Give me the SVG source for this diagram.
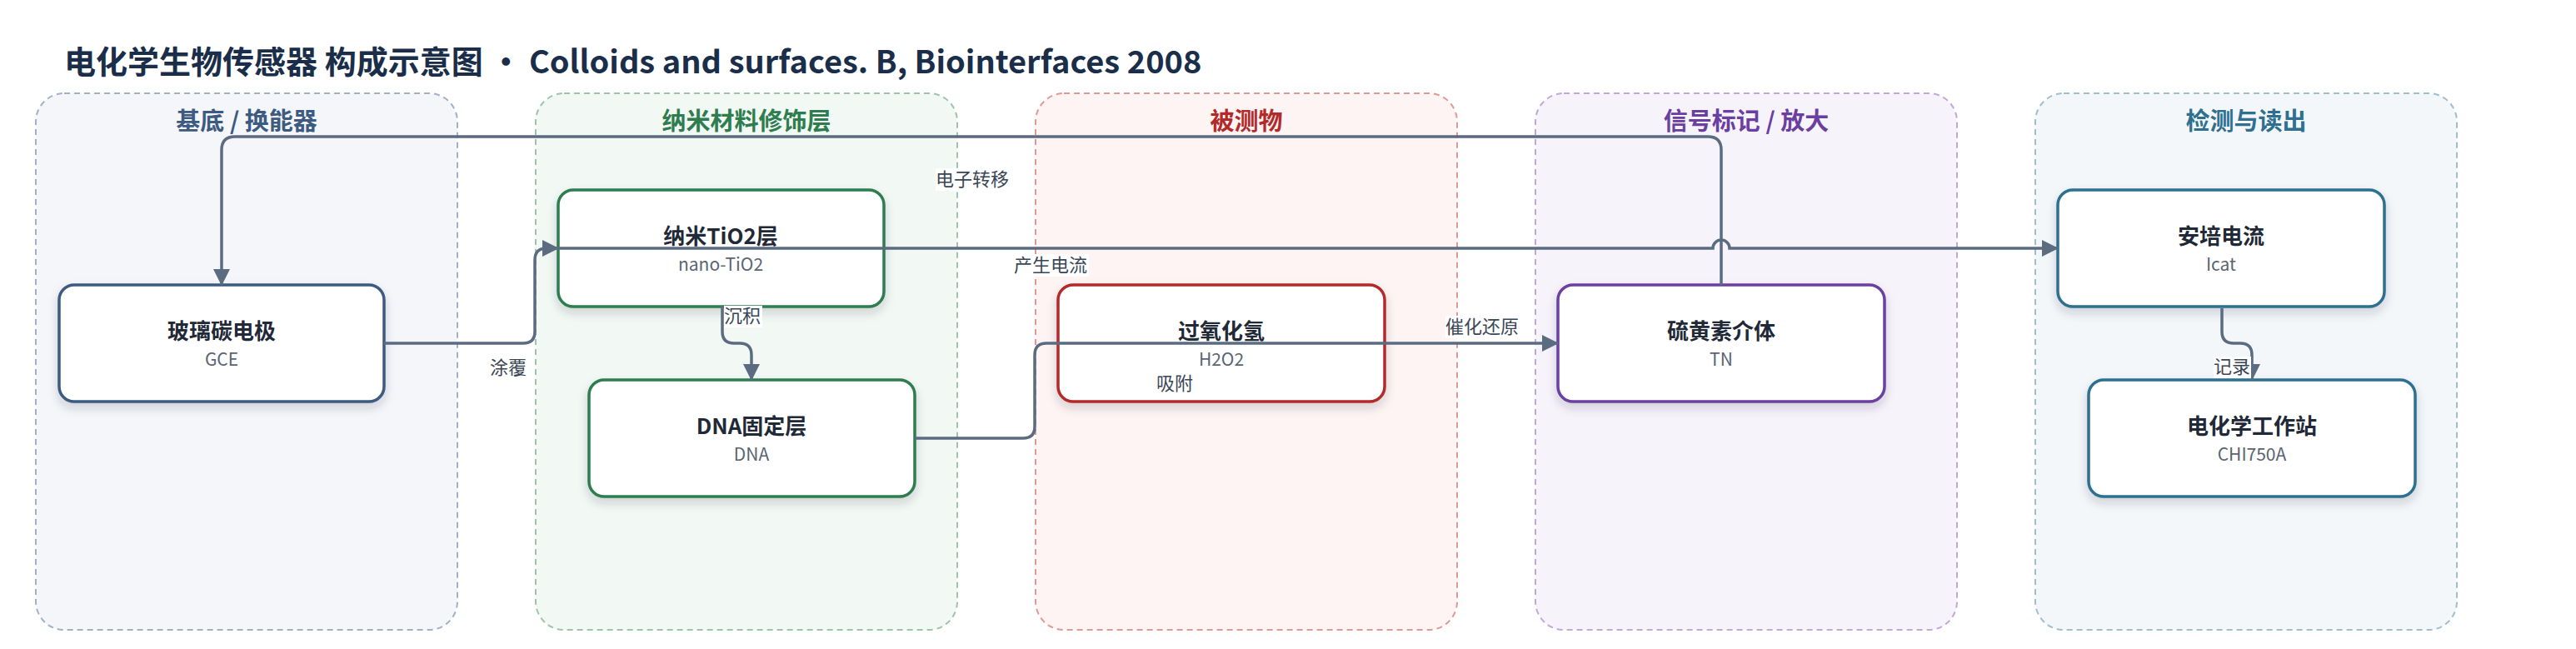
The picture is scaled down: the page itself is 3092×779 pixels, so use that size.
<svg xmlns="http://www.w3.org/2000/svg" width="3092" height="779" viewBox="0 0 3092 779">
<style>
text{font-family:"Noto Sans CJK SC","Noto Sans",sans-serif}
.title{font-size:38px;font-weight:700;fill:#1a2e4a}
.lane{stroke-width:2;stroke-dasharray:7 5}
.lt{font-size:29px;font-weight:700;text-anchor:middle}
.nb{fill:#fff;stroke-width:3.5}
.nt{font-size:26px;font-weight:700;fill:#1f2937;text-anchor:middle}
.ns{font-size:21px;fill:#5a6472;text-anchor:middle}
.edge{fill:none;stroke:#5b6b80;stroke-width:3.5}
.lb{fill:#fff}
.el{font-size:22px;fill:#3a4656;text-anchor:middle}
</style>
<defs>
<filter id="sh" x="-10%" y="-20%" width="120%" height="150%">
<feDropShadow dx="0" dy="6" stdDeviation="6" flood-color="#1f2937" flood-opacity="0.18"/>
</filter>
<marker id="ar" markerWidth="20" markerHeight="20" viewBox="0 0 20 20" refX="19" refY="10" orient="auto" markerUnits="userSpaceOnUse">
<path d="M0,0 L20,10 L0,20 z" fill="#5b6b80"/>
</marker>
</defs>
<rect width="3092" height="779" fill="#fff"/>
<text class="title" x="77" y="88">电化学生物传感器 构成示意图 · Colloids and surfaces. B, Biointerfaces 2008</text>

<g id="lane-substrate">
<rect class="lane" x="43" y="112" width="506" height="644" rx="34" fill="#f4f6fa" stroke="#a3b1c6"/>
<text class="lt" x="296" y="156" fill="#3d5a80">基底 / 换能器</text>
</g>
<g id="lane-nano">
<rect class="lane" x="643" y="112" width="506" height="644" rx="34" fill="#f2f8f4" stroke="#9ec5ab"/>
<text class="lt" x="896" y="156" fill="#2e7d4f">纳米材料修饰层</text>
</g>
<g id="lane-analyte">
<rect class="lane" x="1243" y="112" width="506" height="644" rx="34" fill="#fdf4f3" stroke="#e09a94"/>
<text class="lt" x="1496" y="156" fill="#b22a2a">被测物</text>
</g>
<g id="lane-label">
<rect class="lane" x="1843" y="112" width="506" height="644" rx="34" fill="#f6f3fb" stroke="#c0a8db"/>
<text class="lt" x="2096" y="156" fill="#6b3fa0">信号标记 / 放大</text>
</g>
<g id="lane-readout">
<rect class="lane" x="2443" y="112" width="506" height="644" rx="34" fill="#f3f7f9" stroke="#9fbfcc"/>
<text class="lt" x="2696" y="156" fill="#2f6f8f">检测与读出</text>
</g>

<g id="node-gce">
<rect class="nb" x="71" y="342" width="390" height="140" rx="18" stroke="#3d5a80" filter="url(#sh)"/>
<text class="nt" x="266" y="407">玻璃碳电极</text>
<text class="ns" x="266" y="439">GCE</text>
</g>
<g id="node-tio2">
<rect class="nb" x="670" y="228" width="391" height="140" rx="18" stroke="#2e7d4f" filter="url(#sh)"/>
<text class="nt" x="865" y="293">纳米TiO2层</text>
<text class="ns" x="865" y="325">nano-TiO2</text>
</g>
<g id="node-dna">
<rect class="nb" x="707" y="456" width="391" height="140" rx="18" stroke="#2e7d4f" filter="url(#sh)"/>
<text class="nt" x="902" y="521">DNA固定层</text>
<text class="ns" x="902" y="553">DNA</text>
</g>
<g id="node-h2o2">
<rect class="nb" x="1270" y="342" width="392" height="140" rx="18" stroke="#b22a2a" filter="url(#sh)"/>
<text class="nt" x="1466" y="407">过氧化氢</text>
<text class="ns" x="1466" y="439">H2O2</text>
</g>
<g id="node-tn">
<rect class="nb" x="1870" y="342" width="392" height="140" rx="18" stroke="#6b3fa0" filter="url(#sh)"/>
<text class="nt" x="2066" y="407">硫黄素介体</text>
<text class="ns" x="2066" y="439">TN</text>
</g>
<g id="node-icat">
<rect class="nb" x="2470" y="228" width="392" height="140" rx="18" stroke="#2f6f8f" filter="url(#sh)"/>
<text class="nt" x="2666" y="293">安培电流</text>
<text class="ns" x="2666" y="325">Icat</text>
</g>
<g id="node-chi">
<rect class="nb" x="2507" y="456" width="392" height="140" rx="18" stroke="#2f6f8f" filter="url(#sh)"/>
<text class="nt" x="2703" y="521">电化学工作站</text>
<text class="ns" x="2703" y="553">CHI750A</text>
</g>

<g id="connectors">
<path class="edge" d="M461,412 H628 Q642,412 642,398 V312 Q642,298 656,298 H670" marker-end="url(#ar)"/>
<path class="edge" d="M670,298 H2056 A10,10 0 0 1 2076,298 H2470" marker-end="url(#ar)"/>
<path class="edge" d="M2066,342 V180 Q2066,164 2050,164 H282 Q266,164 266,180 V342" marker-end="url(#ar)"/>
<path class="edge" d="M867,368 V398 Q867,412 881,412 H888 Q902,412 902,426 V456" marker-end="url(#ar)"/>
<path class="edge" d="M1098,526 H1228 Q1242,526 1242,512 V426 Q1242,412 1256,412 H1870" marker-end="url(#ar)"/>
<path class="edge" d="M2667,370 V398 Q2667,412 2681,412 H2689 Q2703,412 2703,426 V456" marker-end="url(#ar)"/>

<rect class="lb" x="587" y="428" width="46" height="27"/>
<text class="el" x="610" y="449">涂覆</text>
<rect class="lb" x="1123" y="202" width="90" height="27"/>
<text class="el" x="1167" y="223">电子转移</text>
<rect class="lb" x="869" y="367" width="46" height="26"/>
<text class="el" x="891" y="387">沉积</text>
<rect class="lb" x="1217" y="305" width="90" height="27"/>
<text class="el" x="1261" y="326">产生电流</text>
<rect class="lb" x="1387" y="447" width="46" height="27"/>
<text class="el" x="1410" y="468">吸附</text>
<rect class="lb" x="1735" y="379" width="90" height="27"/>
<text class="el" x="1779" y="400">催化还原</text>
<rect class="lb" x="2657" y="428" width="45" height="26"/>
<text class="el" x="2679" y="448">记录</text>
</g>
</svg>
